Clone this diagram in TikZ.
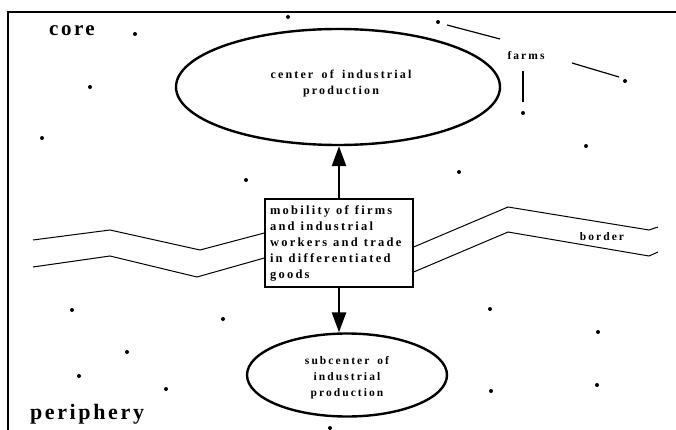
\documentclass[tikz,border=0pt]{standalone}
\usepackage{fontspec}
\setmainfont{Liberation Serif}
\newfontfamily\spfont[LetterSpace=18,WordSpace=1.6]{Liberation Serif}
\newfontfamily\bigfont[LetterSpace=12]{Liberation Serif}
\newcommand\widespaces{\spaceskip=6pt plus 1pt\relax}
\usetikzlibrary{shapes.geometric,arrows.meta}
\begin{document}
\begin{tikzpicture}[x=1pt,y=-1pt,
  dot/.style={fill=black,circle,inner sep=0pt,minimum size=4pt},
  oval/.style={draw,ellipse,line width=2.4pt,inner sep=0pt},
  ovaltext/.style={align=center,inner sep=0pt,font=\spfont\bfseries\fontsize{12}{16}\selectfont},
  midbox/.style={draw,line width=1.4pt,rectangle,inner sep=0pt,minimum width=148pt,minimum height=88pt,text width=138pt,align=left,font=\spfont\bfseries\fontsize{12.5}{16}\selectfont,execute at begin node=\widespaces},
  bline/.style={line width=1pt},
  bigarrow/.style={line width=2.6pt,-{Triangle[length=20pt,width=14pt]}},
  smalllabel/.style={font=\spfont\bfseries\fontsize{11.5}{12}\selectfont,inner sep=0pt}
]
\useasboundingbox (0,0) rectangle (676,430);
% frame
\draw[line width=1.4pt] (8,430) -- (8,12) -- (676,12);
% labels
\node[font=\bigfont\bfseries\fontsize{21}{24}\selectfont,inner sep=0pt,anchor=base] (core) at (72,36) {core};
\node[font=\bigfont\bfseries\fontsize{22}{24}\selectfont,inner sep=0pt,anchor=base] (periphery) at (87,419) {periphery};
% ellipses and box
\node[oval,minimum width=324pt,minimum height=116pt,
  label={[ovaltext,yshift=3pt,xshift=3pt]center:center of industrial\\production}] (center) at (338,87) {};
\node[midbox] (box) at (339,243) {mobility of firms\\and industrial\\workers and trade\\in differentiated\\goods};
\node[oval,minimum width=200pt,minimum height=83pt,
  label={[ovaltext,font=\spfont\bfseries\fontsize{11.5}{16}\selectfont,yshift=-3pt]center:subcenter of\\industrial\\production}] (sub) at (347,375) {};
% arrows
\draw[bigarrow] (box.north) -- (box.north |- center.south);
\draw[bigarrow] (box.south) -- (box.south |- sub.north);
% border lines
\draw[bline] (33,240) -- (110,230) -- (200,250) -- (box.west |- 0,233);
\draw[bline] (33,267) -- (110,256) -- (197,277) -- (box.west |- 0,258);
\draw[bline] (box.east |- 0,247) -- (508,207) -- (649,230) -- (658,227);
\draw[bline] (box.east |- 0,272) -- (508,232) -- (649,256) -- (658,252);
\node[smalllabel] (border) at (602,237) {border};
% farms
\node[smalllabel] (farms) at (526,56) {farms};
\coordinate (f1a) at (447,25); \coordinate (f1b) at (500,39);
\coordinate (f2a) at (572,63); \coordinate (f2b) at (619,77);
\coordinate (f3a) at (523,71); \coordinate (f3b) at (523,102);
\draw[line width=1.2pt] (f1a) -- (f1b);
\draw[line width=1.2pt] (f2a) -- (f2b);
\draw[line width=1.2pt] (f3a) -- (f3b);
% dots
\foreach \p [count=\i] in {(135,34),(90,87),(42,138),(246,180),(288,17),(438,22),(625,81),(523,113),(586,146),(459,172),(72,310),(223,319),(127,352),(79,376),(166,389),(330,428),(490,309),(598,332),(491,391),(597,385)}
  \node[dot] (d\i) at \p {};
\end{tikzpicture}
\end{document}
